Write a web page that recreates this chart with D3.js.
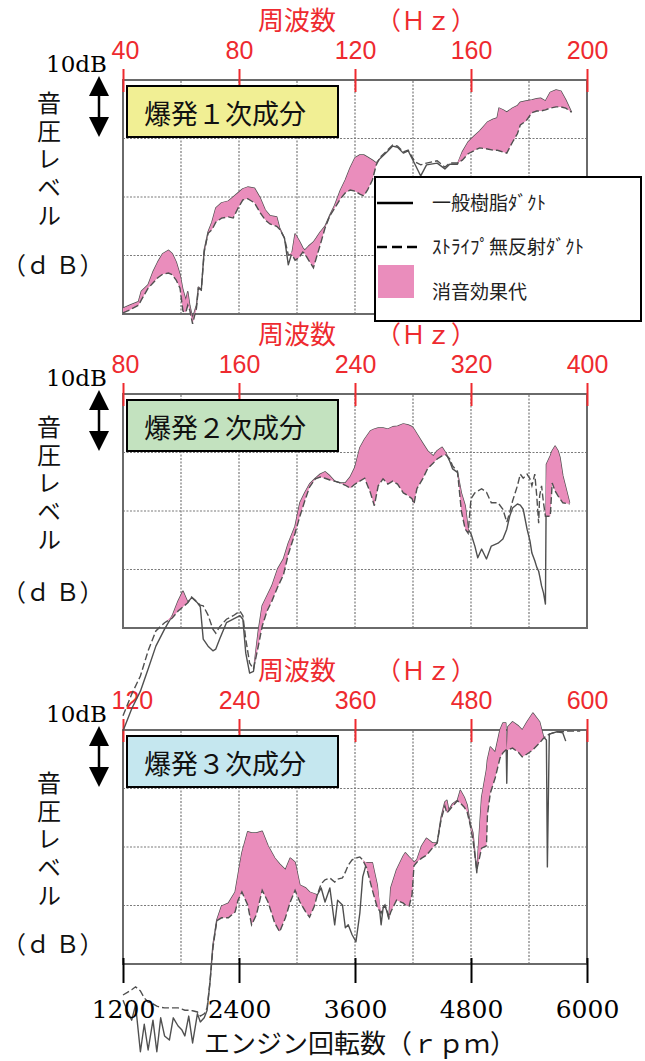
<!DOCTYPE html>
<html><head><meta charset="utf-8">
<script src="https://cdn.jsdelivr.net/npm/d3@7"></script>
<style>body{margin:0;background:#fff}svg{display:block}</style>
</head><body>
<svg id="c" width="645" height="1061"></svg>
<script>
// ---- data ----
const rpmTicks = [1200, 2400, 3600, 4800, 6000];
const hz1 = [40, 80, 120, 160, 200];
const hz2 = [80, 160, 240, 320, 400];
const hz3 = [120, 240, 360, 480, 600];
const dbGrid = [0, 10, 20, 30, 40];

const p1Rpm = [1200,1270,1360,1390,1460,1510,1560,1610,1670,1710,1750,1790,1820,1850,1870,1890,1920,1960,1980,2010,2040,2080,2120,2160,2220,2290,2340,2390,2440,2490,2560,2620,2670,2720,2790,2820,2870,2910,2950,2980,3020,3060,3080,3120,3170,3200,3240,3290,3340,3390,3450,3500,3550,3600,3650,3690,3730,3780,3820,3860,3930,3990,4040,4100,4150,4220,4280,4340,4450,4530,4580,4660,4710,4770,4830,4890,4970,5030,5070,5090,5130,5170,5230,5280,5310,5370,5430,5480,5520,5570,5620,5680,5730,5780,5840];
const p1General = [1.0,1.5,2.1,3.9,5.0,7.2,8.9,10.3,10.9,10.3,8.9,6.7,4.1,2.4,3.8,1.5,-0.7,1.5,4.6,4.1,10.9,14.0,15.7,18.1,19.0,19.3,20.0,20.7,21.4,21.7,21.5,19.8,17.8,16.8,16.6,14.7,13.0,8.4,10.6,13.7,12.6,11.3,10.9,11.6,12.3,13.0,14.0,15.0,16.9,18.6,21.2,22.9,25.0,26.7,27.2,27.2,26.8,26.3,25.8,26.6,27.7,28.7,28.5,27.5,27.9,25.6,23.6,25.5,25.8,24.8,25.6,25.6,27.7,29.4,30.4,31.3,32.8,33.3,33.5,35.2,34.9,34.5,35.2,35.6,36.2,36.4,36.6,36.8,36.9,36.4,37.9,38.3,38.1,36.6,34.5];
const p1Stripe = [0.2,0.7,1.5,2.4,4.4,5.3,6.2,6.8,7.0,6.7,5.8,4.4,0.5,0.3,1.5,0.7,-1.7,1.0,4.4,4.1,10.6,13.8,14.4,15.7,16.4,16.6,16.4,18.1,19.5,19.7,19.0,17.3,16.1,15.4,15.0,14.5,13.0,10.1,10.1,9.2,9.6,10.6,10.3,9.2,7.9,9.6,11.8,14.7,16.8,18.1,19.7,20.7,21.2,21.0,20.5,20.2,21.2,22.9,25.5,26.8,27.9,28.9,28.7,27.7,28.0,26.0,25.5,25.8,26.2,25.1,25.8,25.8,26.3,27.4,27.9,28.4,28.2,28.0,28.0,27.9,27.7,27.5,29.4,30.8,32.3,33.0,34.4,34.7,34.7,34.9,35.2,35.4,35.4,35.2,34.5];

const p2Rpm = [1200,1290,1380,1460,1540,1630,1710,1770,1820,1870,1910,1970,2000,2030,2080,2130,2160,2200,2270,2340,2410,2440,2470,2510,2550,2600,2640,2690,2740,2800,2860,2910,2980,3030,3080,3130,3190,3240,3290,3340,3390,3450,3500,3550,3600,3650,3700,3760,3800,3840,3890,3940,3990,4040,4100,4150,4190,4210,4240,4300,4350,4410,4450,4500,4540,4580,4610,4660,4700,4740,4770,4800,4840,4870,4910,4960,5010,5080,5130,5170,5200,5230,5280,5310,5340,5380,5410,5430,5460,5480,5500,5510,5530,5550,5570,5580,5620,5640,5670,5700,5720,5750,5820];
const p2General = [-17.6,-13.8,-10.8,-7.0,-3.1,-0.2,2.1,4.6,6.3,4.4,5.2,4.3,3.6,-1.9,-3.1,-3.9,-3.6,-1.9,0.9,1.5,2.1,1.5,-4.3,-7.7,-7.4,-0.5,3.8,5.5,7.2,10.1,11.8,14.5,17.4,21.4,23.1,24.6,25.6,26.3,26.7,26.0,25.1,24.8,24.8,25.8,27.5,30.8,32.3,33.7,34.0,34.2,34.2,34.0,34.4,34.5,34.9,34.7,34.4,34.0,33.2,31.6,30.3,29.4,30.3,30.9,29.9,28.5,27.2,26.6,23.1,20.9,16.9,16.1,14.0,12.0,13.5,11.8,14.0,14.5,15.2,16.9,19.1,20.5,21.2,21.0,20.3,16.9,14.9,12.8,11.5,10.4,9.7,8.9,7.2,6.0,4.1,28.0,29.4,30.3,31.1,30.3,29.2,26.0,21.4];
const p2Stripe = [-15.0,-11.3,-8.2,-3.9,-0.5,0.9,1.7,2.9,3.6,4.3,5.3,4.4,3.9,3.8,2.2,-0.2,-0.9,0.2,1.5,2.1,2.9,2.1,-1.9,-6.0,-7.0,-3.1,0.3,2.9,4.6,7.0,9.1,12.6,16.2,19.1,21.7,24.1,25.5,25.8,25.6,25.3,25.1,24.8,24.4,23.9,24.6,25.1,25.6,23.1,20.9,24.3,25.5,24.6,25.1,24.6,23.1,22.6,22.1,21.2,23.8,25.5,27.2,28.2,28.9,29.4,29.6,28.9,27.7,26.8,20.0,16.9,16.2,22.1,23.1,23.4,23.8,23.2,21.4,21.4,20.3,18.1,19.7,21.7,24.3,26.3,25.6,26.3,25.5,24.3,26.3,22.6,17.9,22.6,24.3,21.4,19.1,19.1,19.1,24.8,23.4,22.6,22.1,21.4,21.2];

const p3Rpm = [1200,1250,1290,1330,1380,1420,1460,1510,1550,1590,1630,1680,1720,1770,1810,1840,1880,1920,1970,2000,2040,2070,2100,2130,2170,2220,2290,2360,2390,2430,2490,2530,2580,2640,2700,2770,2820,2880,2930,2980,3030,3090,3130,3180,3210,3250,3290,3340,3390,3420,3470,3500,3530,3570,3610,3650,3680,3720,3780,3830,3870,3890,3910,3930,3950,3970,4030,4100,4120,4160,4190,4210,4240,4290,4340,4400,4450,4490,4530,4550,4570,4610,4660,4690,4730,4760,4790,4820,4860,4910,4960,4970,5000,5050,5100,5130,5160,5170,5180,5230,5290,5330,5380,5440,5510,5550,5580,5590,5610,5650,5690,5750,5780,5840,5930];
const p3General = [-6.2,-8.2,-9.6,-7.0,-15.0,-10.3,-14.7,-9.6,-15.0,-9.2,-12.3,-13.0,-9.2,-10.6,-11.3,-12.3,-8.9,-13.5,-8.5,-9.9,-9.2,-7.9,-3.1,3.2,7.5,9.9,10.4,12.3,15.2,19.0,22.6,22.4,22.4,22.7,20.2,18.1,17.1,16.1,18.1,17.4,13.5,13.0,12.3,12.0,11.8,13.0,10.6,13.0,6.7,10.9,10.1,6.2,6.7,5.0,3.8,8.7,14.9,17.3,17.3,13.5,6.7,9.5,9.9,9.0,7.7,13.0,16.1,18.5,19.0,18.3,17.8,17.4,17.8,20.2,21.5,20.7,20.7,25.0,27.7,28.0,26.3,27.4,28.0,29.7,28.5,27.2,24.1,22.4,15.6,28.5,33.2,34.9,37.1,36.2,40.0,41.2,41.2,30.9,40.5,41.4,40.7,40.0,41.4,42.9,41.4,38.8,38.3,16.6,39.3,39.5,39.7,39.5,38.1,null,null];
const p3Stripe = [-5.3,-4.8,-4.4,-3.9,-4.6,-5.8,-6.5,-6.8,-7.2,-7.4,-7.5,-7.5,-7.5,-7.5,-7.7,-7.9,-7.9,-8.0,-8.2,-8.9,-8.5,-7.5,-3.1,2.7,7.4,7.9,7.9,8.9,10.9,12.3,10.1,6.7,8.4,12.6,10.6,7.0,5.5,7.9,10.6,12.6,10.6,8.9,8.0,9.9,11.8,13.7,14.4,14.7,14.0,14.5,14.7,15.7,16.9,17.8,18.1,18.3,17.8,16.4,12.6,9.7,8.7,9.7,10.1,9.2,7.9,8.9,10.9,10.4,10.1,9.9,11.8,16.8,17.4,18.1,18.6,19.8,20.7,24.6,27.0,25.8,26.2,27.0,27.9,27.5,26.8,26.0,23.9,21.2,16.1,19.8,20.2,25.5,29.2,31.8,35.2,36.1,36.6,36.6,36.6,36.9,36.2,35.4,35.9,36.6,37.8,38.6,39.0,39.1,39.3,39.5,39.7,39.7,39.8,39.8,39.8];

const legendItems = ['一般樹脂ﾀﾞｸﾄ', 'ｽﾄﾗｲﾌﾟ無反射ﾀﾞｸﾄ', '消音効果代'];

// ---- drawing ----
const RED = '#ee2a2f', PINK = '#ea8dbc', LINE = '#505050';
const JP = "'Noto Sans CJK JP','Noto Sans',sans-serif";
const SERIF = "'DejaVu Serif','Liberation Serif',serif";
const svg = d3.select('#c');
const x = d3.scaleLinear().domain([1200, 6000]).range([123, 587]);

const panels = [
  {top: 80,  hz: hz1, label: '爆発１次成分', fill: '#f1ef94', rpm: p1Rpm, gen: p1General, str: p1Stripe, yl: 103, db: 265},
  {top: 394, hz: hz2, label: '爆発２次成分', fill: '#c3e2bf', rpm: p2Rpm, gen: p2General, str: p2Stripe, yl: 427, db: 592},
  {top: 730, hz: hz3, label: '爆発３次成分', fill: '#c5e7ef', rpm: p3Rpm, gen: p3General, str: p3Stripe, yl: 783, db: 944}
];
panels.forEach(p => {
  p.y = d3.scaleLinear().domain([0, 40]).range([p.top + 234, p.top]);
  p.data = p.rpm.map((r, i) => ({r, g: p.gen[i], s: p.str[i]}));
});

const gGrid = svg.append('g'), gBox = svg.append('g'), gCurve = svg.append('g'), gTop = svg.append('g');

panels.forEach(p => {
  const y = p.y;
  // grid
  gGrid.selectAll(null).data(dbGrid.slice(1, 4)).join('line')
    .attr('x1', x(1200)).attr('x2', x(6000)).attr('y1', d => y(d)).attr('y2', d => y(d))
    .attr('stroke', '#7a7a7a').attr('stroke-width', 1.2).attr('stroke-dasharray', '2,1.5');
  gGrid.selectAll(null).data(d3.range(1800, 6000, 600)).join('line')
    .attr('y1', y(0)).attr('y2', y(40)).attr('x1', d => x(d)).attr('x2', d => x(d))
    .attr('stroke', '#7a7a7a').attr('stroke-width', 1.2).attr('stroke-dasharray', '2,1.5');
  gGrid.append('rect').attr('x', x(1200)).attr('y', y(40)).attr('width', x(6000) - x(1200)).attr('height', y(0) - y(40))
    .attr('fill', 'none').attr('stroke', '#6a6a6a').attr('stroke-width', 2);

  // top frequency axis (red)
  const xHz = d3.scaleLinear().domain([p.hz[0], p.hz[4]]).range([123, 587]);
  const ax = gGrid.append('g').attr('transform', `translate(0,${p.top + 12})`)
    .call(d3.axisTop(xHz).tickValues(p.hz).tickSize(23).tickFormat(d3.format('d')));
  ax.select('.domain').remove();
  ax.selectAll('line').attr('stroke', RED).attr('stroke-width', 2);
  ax.selectAll('text').attr('fill', RED).attr('y', -33).attr('dy', null)
    .attr('font-family', "'Liberation Sans',Arial,sans-serif").attr('font-size', 25);
  // first frequency label sits just right of the 10dB mark
  ax.selectAll('text').filter(d => d === p.hz[0]).attr('text-anchor', 'start').attr('x', -12);

  // label box
  gBox.append('rect').attr('x', 127).attr('y', p.top + 6).attr('width', 211).attr('height', 51)
    .attr('fill', p.fill).attr('stroke', '#000').attr('stroke-width', 2);
  gBox.append('text').attr('x', 144).attr('y', p.top + 44).text(p.label)
    .attr('font-family', JP).attr('font-size', 27).attr('fill', '#111');

  // curves
  const lineG = d3.line().defined(d => d.g != null).x(d => x(d.r)).y(d => y(d.g));
  const lineS = d3.line().defined(d => d.s != null).x(d => x(d.r)).y(d => y(d.s));
  const area = d3.area().defined(d => d.g != null && d.s != null)
    .x(d => x(d.r)).y0(d => y(d.s)).y1(d => y(Math.max(d.g, d.s)));
  gCurve.append('path').datum(p.data).attr('d', lineG)
    .attr('fill', 'none').attr('stroke', LINE).attr('stroke-width', 1.4).attr('stroke-linejoin', 'round');
  gCurve.append('path').datum(p.data).attr('d', area).attr('fill', PINK);
  gCurve.append('path').datum(p.data).attr('d', lineS)
    .attr('fill', 'none').attr('stroke', LINE).attr('stroke-width', 1.4).attr('stroke-dasharray', '7,3');

  // texts
  gTop.append('text').attr('x', 258).attr('y', p.top - 50).text('周波数')
    .attr('font-family', JP).attr('font-size', 26).attr('fill', RED);
  gTop.append('text').attr('x', 376).attr('y', p.top - 50).text('（Ｈｚ）')
    .attr('font-family', JP).attr('font-size', 25).attr('fill', RED);
  gTop.append('text').attr('x', 46).attr('y', p.top - 8).text('10dB')
    .attr('font-family', SERIF).attr('font-size', 23).attr('fill', '#000');
  // 10 dB arrow
  const ay = p.top;
  gTop.append('line').attr('x1', 99).attr('x2', 99).attr('y1', ay + 14).attr('y2', ay + 40)
    .attr('stroke', '#000').attr('stroke-width', 2.5);
  gTop.append('path').attr('d', `M99,${ay - 4}L89,${ay + 16}L109,${ay + 16}Z M99,${ay + 57}L89,${ay + 37}L109,${ay + 37}Z`)
    .attr('fill', '#000');
  // y label (vertical writing)
  gTop.append('text').attr('x', 49).attr('y', p.yl - 12).text('音圧レベル')
    .style('writing-mode', 'vertical-rl').style('letter-spacing', '4px')
    .attr('font-family', JP).attr('font-size', 24).attr('fill', '#111');
  gTop.append('text').attr('x', 2).attr('y', p.db + 9).text('（ｄ Ｂ）')
    .attr('font-family', JP).attr('font-size', 24).attr('fill', '#111');
});

// bottom rpm axis
const p3 = panels[2];
const bx = gTop.append('g').attr('transform', `translate(0,${p3.top + 228})`)
  .call(d3.axisBottom(x).tickValues(rpmTicks).tickSize(25).tickFormat(d3.format('d')));
bx.select('.domain').remove();
bx.selectAll('line').attr('stroke', '#000').attr('stroke-width', 2);
bx.selectAll('text').attr('y', 60).attr('dy', null).attr('fill', '#000')
  .attr('font-family', SERIF).attr('font-size', 25);
gTop.append('text').attr('x', 204).attr('y', 1053).text('エンジン回転数（ｒｐｍ）')
  .attr('font-family', JP).attr('font-size', 26).attr('fill', '#111');

// legend
const lg = gTop.append('g');
lg.append('rect').attr('x', 375).attr('y', 177).attr('width', 266).attr('height', 144)
  .attr('fill', '#fff').attr('stroke', '#000').attr('stroke-width', 2);
lg.append('line').attr('x1', 377).attr('x2', 413).attr('y1', 203).attr('y2', 203).attr('stroke', '#000').attr('stroke-width', 2.5);
lg.append('line').attr('x1', 377).attr('x2', 417).attr('y1', 247).attr('y2', 247).attr('stroke', '#000').attr('stroke-width', 2.5).attr('stroke-dasharray', '10,5');
lg.append('rect').attr('x', 378).attr('y', 265).attr('width', 36).attr('height', 33).attr('fill', PINK);
lg.selectAll(null).data(legendItems).join('text')
  .attr('x', 432).attr('y', (d, i) => [210, 254, 299][i]).text(d => d)
  .attr('font-family', JP).attr('font-size', 19).attr('fill', '#222');
</script>
</body></html>
